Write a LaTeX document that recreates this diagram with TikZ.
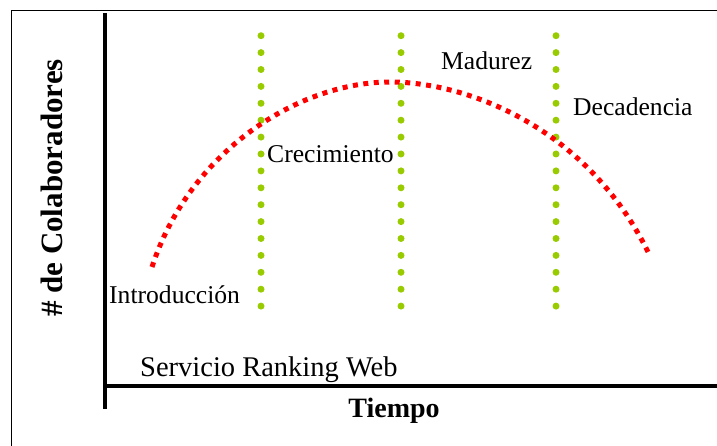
\documentclass[tikz,border=0pt]{standalone}
\usepackage{fontspec}
\setmainfont{Liberation Serif}
\usetikzlibrary{positioning}
\definecolor{leafgreen}{HTML}{99CC00}
\definecolor{curvered}{HTML}{FF0000}

\begin{document}
\begin{tikzpicture}[x=1pt, y=-1pt,
    phase/.style={anchor=base west, inner sep=0pt, font=\fontsize{25.6}{30}\selectfont},
    axistitle/.style={anchor=base, inner sep=0pt, font=\fontsize{28}{32}\selectfont\bfseries},
    axisline/.style={line width=4pt, black},
    lifecurve/.style={curvered, line width=5pt, dash pattern=on 5pt off 5.5pt},
    dot/.style={fill=leafgreen}
  ]
  \useasboundingbox (0,0) rectangle (717,446);
  \clip (0,0) rectangle (717,446);
  \fill[white] (0,0) rectangle (717,446);
  \draw[line width=1pt] (11,11) rectangle (740,470);

  % axes
  \coordinate (ytop) at (105,13);
  \coordinate (ybot) at (105,409);
  \coordinate (xleft) at (103,386);
  \coordinate (xright) at (730,386);
  \draw[axisline] (ytop) -- (ybot);
  \draw[axisline] (xleft) -- (xright);

  % phase borders
  \foreach \gx in {261,401,556}
    \foreach \k in {0,...,16}
      \fill[dot] (\gx,35.7+16.9*\k) circle[radius=3.5pt];

  % adoption curve
  \coordinate (cstart) at (152,267);
  \coordinate (cpeak) at (390,82);
  \coordinate (cend) at (650,256);
  \draw[lifecurve] (cstart) .. controls (190,150) and (300,82) .. (cpeak)
                            .. controls (470,82) and (590,130) .. (cend);

  \node[phase] (intro) at (109,303) {Introducción};
  \node[phase] (crec)  at (267,163) {Crecimiento};
  \node[phase] (mad)   at (441,70)  {Madurez};
  \node[phase] (dec)   at (573,116) {Decadencia};
  \node[phase, font=\fontsize{28.5}{32}\selectfont] (serv) at (140,376) {Servicio Ranking Web};

  \node[axistitle] (tiempo) at (394,417) {Tiempo};
  \node[axistitle, font=\fontsize{31}{36}\selectfont\bfseries, rotate=90] (colab) at (62,188) {\# de Colaboradores};
\end{tikzpicture}
\end{document}
